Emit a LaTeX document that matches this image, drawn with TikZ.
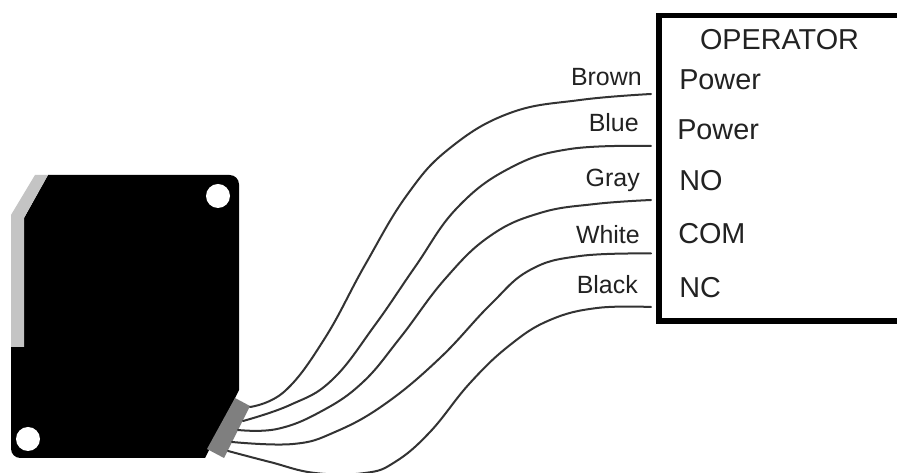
\documentclass[tikz,border=0pt]{standalone}
\usepackage{fontspec}
\setmainfont{Liberation Sans}
\definecolor{wirecol}{HTML}{333333}
\definecolor{bandcol}{HTML}{C4C4C4}
\definecolor{plugcol}{HTML}{7F7F7F}
\definecolor{txtcol}{HTML}{222222}
\tikzset{
  wire/.style={draw=wirecol,line width=1.5pt,line cap=round},
  term/.style={anchor=base west,inner sep=0pt,text=txtcol,font=\fontsize{21.6}{24}\selectfont},
  colourlabel/.style={anchor=base east,inner sep=0pt,text=txtcol,font=\fontsize{18.7}{22}\selectfont},
}
\begin{document}
\begin{tikzpicture}[x=0.75pt,y=-0.75pt]
\useasboundingbox (0,0) rectangle (897,473);
\fill[white] (0,0) rectangle (897,473);
% sensor body
\fill[black,rounded corners=0.1pt] (11,347) -- (24,347) -- (24,218) -- (48,175)
  [rounded corners=7pt] -- (239,175) [rounded corners=0.1pt] -- (239,390) -- (205,458)
  [rounded corners=7pt] -- (11,458) [rounded corners=0.1pt] -- cycle;
\fill[bandcol] (11,347) -- (24,347) -- (24,218) -- (48,175) -- (35,175) -- (11,215) -- cycle;
\fill[white] (218,196) circle[radius=12];
\fill[white] (28,439) circle[radius=12];
% connector plug
\fill[plugcol] (235,398) -- (250,406) -- (224,458) -- (207,449) -- cycle;
% operator box
\draw[black,line width=4.2pt,line join=miter] (897,15.5) -- (659,15.5) -- (659,321) -- (897,321);
% wire ends
\coordinate (s1) at (250,407);
\coordinate (s2) at (243,421);
\coordinate (s3) at (238,430);
\coordinate (s4) at (232,442);
\coordinate (s5) at (228,451);
\coordinate (e1) at (651,94);
\coordinate (e2) at (651,146);
\coordinate (e3) at (651,200);
\coordinate (e4) at (651,253.5);
\coordinate (e5) at (651,307);
% wires
\draw[wire] plot[smooth,tension=0.7] coordinates {(s1) (285,391) (325,338) (365,265) (407,195) (450,148) (510,113) (580,100) (e1)};
\draw[wire] plot[smooth,tension=0.7] coordinates {(s2) (290,405) (332,380) (375,325) (415,267) (457,208) (510,168) (570,149) (e2)};
\draw[wire] plot[smooth,tension=0.7] coordinates {(s3) (277,429) (320,412) (362,383) (400,338) (445,279) (490,236) (540,213) (595,204) (e3)};
\draw[wire] plot[smooth,tension=0.7] coordinates {(s4) (293,444) (335,432) (385,404) (440,358) (490,305) (530,270) (580,256) (e4)};
\draw[wire] plot[smooth,tension=0.7] coordinates {(s5) (270,462) (315,473) (365,473) (395,462) (430,432) (470,383) (510,345) (550,320) (597,308) (e5)};
% terminal labels
\node[term,anchor=base] (op) at (779.5,50) {OPERATOR};
\node[term] (p1) at (679,90) {Power};
\node[term] (p2) at (677,140) {Power};
\node[term] (no) at (679,191) {NO};
\node[term] (com) at (678,244) {COM};
\node[term] (nc) at (679,298) {NC};
% colour labels
\node[colourlabel] (brown) at (642,86) {Brown};
\node[colourlabel] (blue) at (639,132) {Blue};
\node[colourlabel] (gray) at (640,187) {Gray};
\node[colourlabel] (whitel) at (640,244) {White};
\node[colourlabel] (blackl) at (638,294) {Black};
\end{tikzpicture}
\end{document}
